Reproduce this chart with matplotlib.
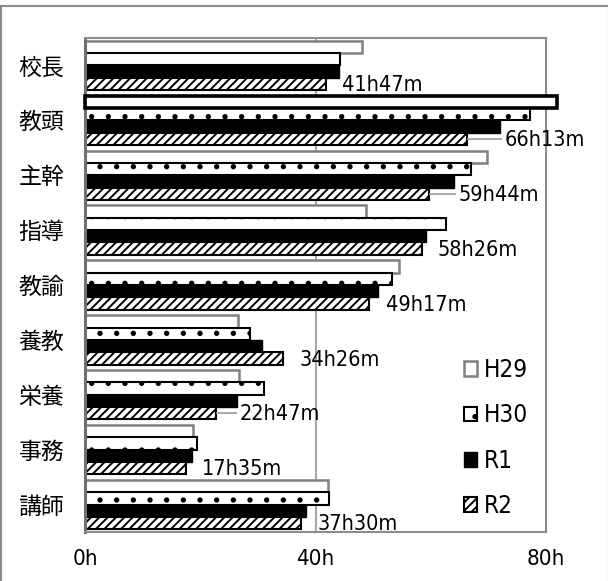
import matplotlib.pyplot as plt
from matplotlib import font_manager
from matplotlib.font_manager import FontProperties
from matplotlib.patches import Patch, Rectangle

# monthly overtime by job type (hours)
categories = ['校長', '教頭', '主幹', '指導', '教諭', '養教', '栄養', '事務', '講師']
series = ['H29', 'H30', 'R1', 'R2']

h29 = [48.1, 81.9, 69.8, 48.7, 54.5, 26.6, 26.7, 18.8, 42.1]
h30 = [44.3, 77.3, 66.9, 62.6, 53.3, 28.6, 31.1, 19.4, 42.3]
r1 = [44.0, 72.0, 64.0, 59.2, 50.8, 30.7, 26.3, 18.6, 38.4]
# latest year, hours and minutes
r2_h = [41, 66, 59, 58, 49, 34, 22, 17, 37]
r2_m = [47, 13, 44, 26, 17, 26, 47, 35, 30]
r2 = [h + m / 60 for h, m in zip(r2_h, r2_m)]

# label placement: gap after the bar (hours) and whether a leader line is drawn
label_gap = [2.9, 6.6, 5.1, 2.8, 2.9, 2.8, 4.0, 2.7, 2.85]
leader = [False, True, True, False, False, False, True, False, False]

jp = 'Noto Sans CJK JP'

# narrow face for the numbers if one is installed
narrow = None
for f in font_manager.fontManager.ttflist:
    if f.stretch in ('condensed', 'semi-condensed', 'extra-condensed') and f.weight in (400, 'normal', 'regular') \
            and f.style == 'normal':
        narrow = f.fname
        if 'DejaVu' in f.name or 'Liberation' in f.name:
            break


def num_font(size):
    if narrow:
        return FontProperties(fname=narrow, size=size)
    return FontProperties(family=[jp], size=size * 0.95)


plt.rcParams['font.family'] = [jp, 'DejaVu Sans']
plt.rcParams['hatch.linewidth'] = 1.4

fig = plt.figure(figsize=(6.08, 5.81), dpi=100)
ax = fig.add_axes([85 / 608, 49 / 581, 461 / 608, 494 / 581])

n = len(categories)
bh = 0.225
ys = list(range(n))

styles = [
    dict(facecolor='white', edgecolor='#808080', linewidth=1.8),
    dict(facecolor='white', edgecolor='black', linewidth=1.5, hatch='.'),
    dict(facecolor='black', edgecolor='black', linewidth=1.0),
    dict(facecolor='white', edgecolor='black', linewidth=1.5, hatch='////'),
]
values = [h29, h30, r1, r2]

for j, (vals, st) in enumerate(zip(values, styles)):
    pos = [y - 0.45 + (j + 0.5) * bh for y in ys]
    bars = ax.barh(pos, vals, height=bh, zorder=2, **st)
    if j == 0:
        # 教頭 H29 stands out with a heavy outline past the axis end
        bars[1].set_edgecolor('black')
        bars[1].set_linewidth(2.6)
        bars[1].set_clip_on(False)
        bars[1].set_zorder(4)

# value labels on the R2 bars
for i in range(n):
    y = i - 0.45 + 3.5 * bh
    x0 = r2[i]
    xt = x0 + label_gap[i]
    if leader[i]:
        ax.plot([x0 + 0.2, xt - 0.6], [y, y], color='#a0a0a0', lw=1.3, zorder=3)
    ax.text(xt, y + 0.02, f'{r2_h[i]}h{r2_m[i]:02d}m', ha='left', va='center',
            fontproperties=num_font(15.5), zorder=5)

ax.set_xlim(0, 80)
ax.set_ylim(n - 0.5, -0.5)
ax.set_xticks([0, 40, 80])
ax.set_xticklabels(['0h', '40h', '80h'], fontproperties=num_font(16))
ax.set_yticks(ys)
ax.set_yticklabels(categories, fontsize=16.5, family=[jp])
ax.tick_params(axis='x', length=0, pad=12)
ax.tick_params(axis='y', length=0, pad=15)
ax.axvline(40, color='#a6a6a6', lw=1.5, zorder=1)

for s in ['top', 'right', 'bottom']:
    ax.spines[s].set_color('#8c8c8c')
    ax.spines[s].set_linewidth(1.5)
ax.spines['left'].set_color('#707070')
ax.spines['left'].set_linewidth(2.2)

handles = [Patch(label=s, **st) for s, st in zip(series, styles)]
ax.legend(handles=handles, loc='center left', bbox_to_anchor=(0.822, 0.19),
          frameon=False, prop=num_font(17.5), handlelength=0.55, handleheight=0.55,
          handletextpad=0.25, labelspacing=0.88, borderpad=0, borderaxespad=0)

# outer chart frame
fig.patches.append(Rectangle((1 / 608, -0.01), 1.0, 0.9997 - 6 / 581 + 0.01,
                             transform=fig.transFigure, fill=False,
                             edgecolor='#8c8c8c', lw=1.5))

fig.savefig('out.png', dpi=100)
